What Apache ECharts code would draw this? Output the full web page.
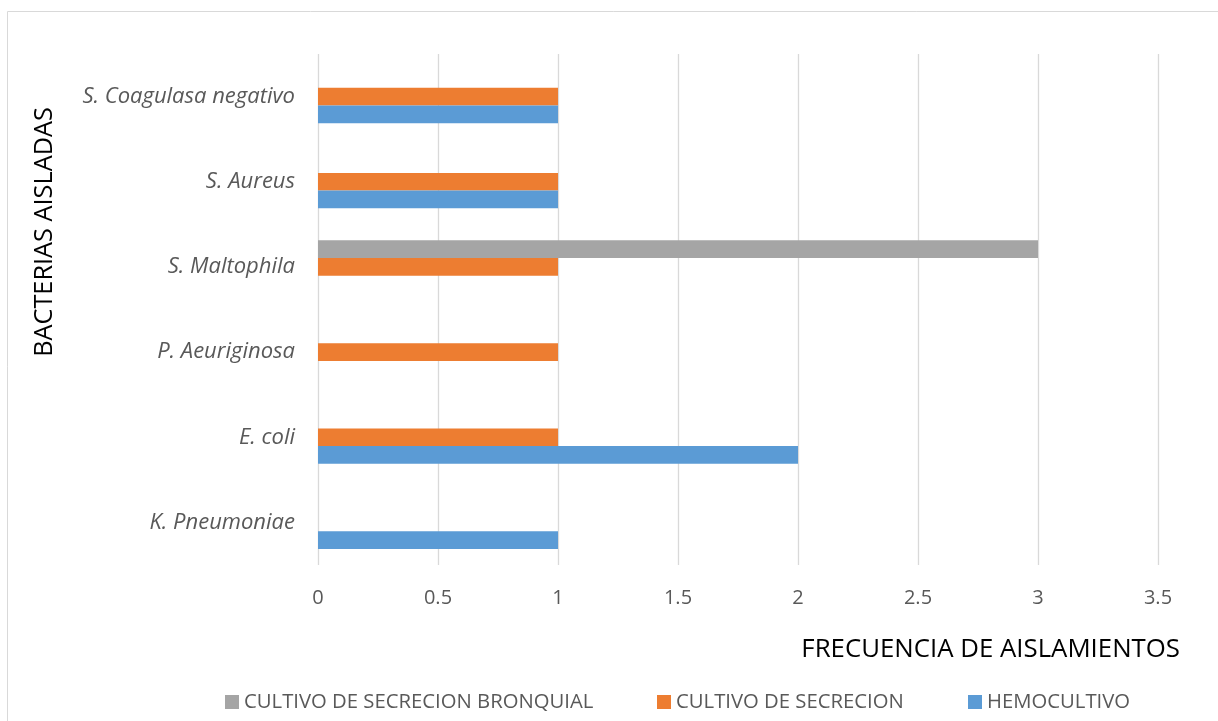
<!DOCTYPE html>
<html>
<head>
<meta charset="utf-8">
<script src="https://cdn.jsdelivr.net/npm/echarts@6/dist/echarts.min.js"></script>
<style>html,body{margin:0;padding:0;background:#fff}#c{width:1218px;height:721px}</style>
</head>
<body>
<div id="c"></div>
<script>
const categories = ['K. Pneumoniae', 'E. coli', 'P. Aeuriginosa', 'S. Maltophila', 'S. Aureus', 'S. Coagulasa negativo'];
const hemocultivo = [1, 2, 0, 0, 1, 1];
const cultivoSecrecion = [0, 1, 1, 1, 1, 1];
const cultivoBronquial = [0, 0, 0, 3, 0, 0];
const xTicks = [0, 0.5, 1, 1.5, 2, 2.5, 3, 3.5];
const seriesNames = ['HEMOCULTIVO', 'CULTIVO DE SECRECION', 'CULTIVO DE SECRECION BRONQUIAL'];

const FONT = '"Open Sans"';
const chart = echarts.init(document.getElementById('c'));
const legendBase = {
  top: 687, icon: 'rect', itemWidth: 14, itemHeight: 14, itemGap: 6,
  textStyle: { color: '#595959', fontSize: 20.3, fontFamily: FONT },
  selectedMode: false
};
chart.setOption({
  animation: false,
  textStyle: { fontFamily: FONT },
  graphic: [{
    type: 'rect', shape: { x: 7.5, y: 11.5, width: 1240, height: 740 },
    style: { fill: 'none', stroke: '#d9d9d9', lineWidth: 1 }, silent: true
  }],
  grid: { left: 318, right: 60, top: 54, bottom: 156 },
  legend: [
    Object.assign({}, legendBase, { left: 220, data: [seriesNames[2]] }),
    Object.assign({}, legendBase, { left: 652, data: [seriesNames[1]] }),
    Object.assign({}, legendBase, { left: 963, data: [seriesNames[0]] })
  ],
  xAxis: {
    type: 'value', min: xTicks[0], max: xTicks[xTicks.length - 1], interval: 0.5,
    name: 'FRECUENCIA DE AISLAMIENTOS', nameLocation: 'end', nameGap: 22,
    nameTextStyle: { color: '#000', fontSize: 25.8, fontFamily: FONT, align: 'right', verticalAlign: 'top', padding: [72, 0, 0, 0] },
    axisLine: { show: false }, axisTick: { show: false },
    axisLabel: { color: '#595959', fontSize: 20, margin: 23 },
    splitLine: { show: true, lineStyle: { color: '#d9d9d9', width: 1.3 } }
  },
  yAxis: {
    type: 'category', data: categories,
    name: 'BACTERIAS AISLADAS', nameLocation: 'middle', nameRotate: 90, nameGap: 261,
    nameTextStyle: { color: '#000', fontSize: 25.3, fontFamily: FONT, padding: [0, 0, 0, 155] },
    axisLine: { show: false }, axisTick: { show: false },
    axisLabel: { color: '#595959', fontSize: 22, fontStyle: 'italic', margin: 23 },
    splitLine: { show: false }
  },
  series: [
    { name: seriesNames[2], type: 'bar', data: cultivoBronquial, itemStyle: { color: '#A5A5A5' }, barGap: '0%', barCategoryGap: '37.6%' },
    { name: seriesNames[1], type: 'bar', data: cultivoSecrecion, itemStyle: { color: '#ED7D31' }, barGap: '0%', barCategoryGap: '37.6%' },
    { name: seriesNames[0], type: 'bar', data: hemocultivo, itemStyle: { color: '#5B9BD5' }, barGap: '0%', barCategoryGap: '37.6%' }
  ]
});
</script>
</body>
</html>
